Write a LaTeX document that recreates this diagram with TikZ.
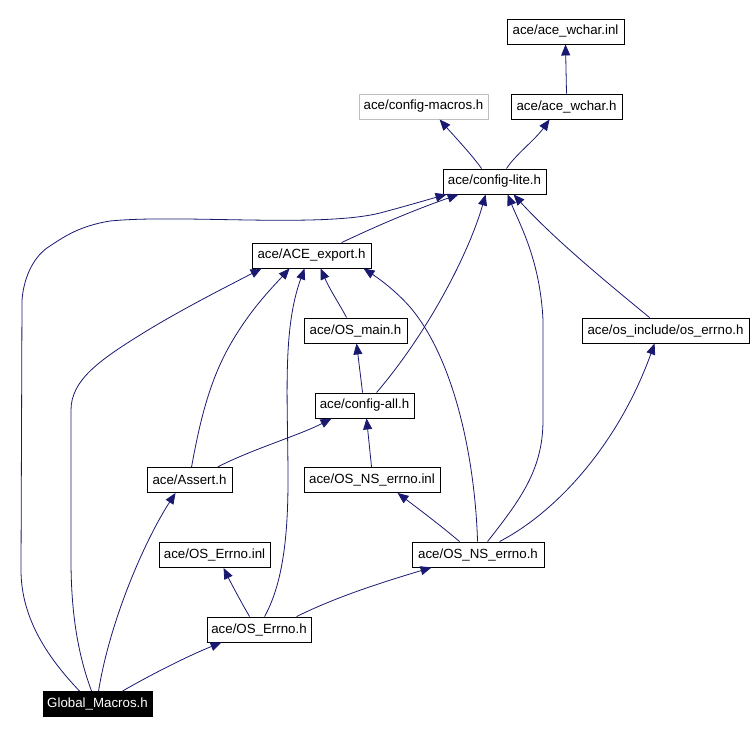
\documentclass[tikz,border=0pt]{standalone}
\usepackage{fontspec}
\setmainfont{Liberation Sans}
\usetikzlibrary{arrows.meta}
\definecolor{edgeblue}{RGB}{25,25,112}
\definecolor{ghost}{RGB}{191,191,191}
\begin{document}
\begin{tikzpicture}[x=1pt,y=-1pt,
  box/.style={draw=black,line width=0.9pt,fill=white,inner sep=0pt,minimum height=25pt,font=\fontsize{13.3}{15}\selectfont},
  ghostbox/.style={box,draw=ghost},
  rootbox/.style={box,fill=black,text=white},
  edge/.style={draw=edgeblue,line width=0.8pt,-{Triangle[length=11pt,width=9pt]}}]
\useasboundingbox (0,0) rectangle (754,734);
% nodes
\node[box,minimum width=117pt] (wcharinl) at (565.5,31.5) {ace/ace\_wchar.inl};
\node[ghostbox,minimum width=129pt] (macros) at (423.5,106.5) {ace/config-macros.h};
\node[box,minimum width=111pt] (wcharh) at (566.5,106.5) {ace/ace\_wchar.h};
\node[box,minimum width=103pt] (lite) at (494.5,181.5) {ace/config-lite.h};
\node[box,minimum width=119pt] (export) at (311.5,255.5) {ace/ACE\_export.h};
\node[box,minimum width=103pt] (osmain) at (355.5,330.5) {ace/OS\_main.h};
\node[box,minimum width=167pt] (oserrno) at (665.5,330.5) {ace/os\_include/os\_errno.h};
\node[box,minimum width=99pt] (configall) at (364.5,405.5) {ace/config-all.h};
\node[box,minimum width=85pt] (assert) at (189.5,480) {ace/Assert.h};
\node[box,minimum width=136pt] (nsinl) at (372,480) {ace/OS\_NS\_errno.inl};
\node[box,minimum width=111pt] (errnoinl) at (214.5,555) {ace/OS\_Errno.inl};
\node[box,minimum width=132pt] (nserrnoh) at (478,554.5) {ace/OS\_NS\_errno.h};
\node[box,minimum width=104pt] (errnoh) at (259,629.5) {ace/OS\_Errno.h};
\node[rootbox,minimum width=109pt] (global) at (97.5,704) {Global\_Macros.h};
% edges
\draw[edge] (wcharh.north) -- (wcharinl.south);
\draw[edge] ([xshift=39pt]lite.north west) .. controls (472,155) and (455,137) .. ([xshift=81pt]macros.south west);
\draw[edge] ([xshift=64pt]lite.north west) .. controls (515,155) and (535,140) .. ([xshift=39pt]wcharh.south west);
\draw[edge] ([xshift=37pt]global.north west) .. controls (50,660) and (21,620) .. (21,570)
  -- (22,300) .. controls (24,275) and (35,255) .. (50,246)
  .. controls (65,236) and (80,226) .. (110,221)
  .. controls (180,214) and (320,228) .. (380,213)
  .. controls (410,205) and (430,199) .. ([xshift=4pt]lite.south west);
\draw[edge] ([xshift=90pt]export.north west) .. controls (360,234) and (400,215) .. ([xshift=16pt]lite.south west);
\draw[edge] ([xshift=49pt]global.north west) .. controls (80,660) and (71,620) .. (71,560)
  -- (71,410) .. controls (71,380) and (100,360) .. (140,335)
  .. controls (180,310) and (230,285) .. ([xshift=10pt]export.south west);
\draw[edge] ([xshift=56pt]global.north west) .. controls (110,620) and (145,540) .. ([xshift=29pt]assert.south west);
\draw[edge] ([xshift=45pt]assert.north west) .. controls (200,420) and (210,380) .. (230,345)
  .. controls (250,310) and (270,290) .. ([xshift=38pt]export.south west);
\draw[edge] ([xshift=71pt]assert.north west) .. controls (250,450) and (300,435) .. ([xshift=17pt]configall.south west);
\draw[edge] ([xshift=58pt]errnoh.north west) .. controls (282,585) and (288,540) .. (288,480)
  .. controls (288,400) and (282,330) .. ([xshift=53pt]export.south west);
\draw[edge] ([xshift=43pt]osmain.north west) .. controls (340,305) and (330,290) .. ([xshift=69pt]export.south west);
\draw[edge] ([xshift=66pt]nserrnoh.north west) .. controls (475,460) and (455,360) .. (410,307)
  .. controls (395,290) and (378,278) .. ([xshift=112pt]export.south west);
\draw[edge] ([xshift=62pt]configall.north west) .. controls (430,330) and (470,250) .. ([xshift=43pt]lite.south west);
\draw[edge] ([xshift=76pt]nserrnoh.north west) .. controls (520,500) and (543,470) .. (543,420)
  -- (543,320) .. controls (540,260) and (520,225) .. ([xshift=65pt]lite.south west);
\draw[edge] ([xshift=68pt]oserrno.north west) .. controls (610,285) and (555,240) .. ([xshift=71pt]lite.south west);
\draw[edge] ([xshift=88pt]nserrnoh.north west) .. controls (560,510) and (620,440) .. ([xshift=73pt]oserrno.south west);
\draw[edge] ([xshift=48pt]configall.north west) -- ([xshift=53pt]osmain.south west);
\draw[edge] ([xshift=68pt]nsinl.north west) -- ([xshift=52pt]configall.south west);
\draw[edge] ([xshift=48pt]nserrnoh.north west) .. controls (440,525) and (420,510) .. ([xshift=94pt]nsinl.south west);
\draw[edge] ([xshift=43pt]errnoh.north west) .. controls (240,600) and (232,585) .. ([xshift=65pt]errnoinl.south west);
\draw[edge] ([xshift=90pt]errnoh.north west) .. controls (340,595) and (390,580) .. ([xshift=20pt]nserrnoh.south west);
\draw[edge] ([xshift=80pt]global.north west) .. controls (150,675) and (190,655) .. ([xshift=15pt]errnoh.south west);
\end{tikzpicture}
\end{document}
